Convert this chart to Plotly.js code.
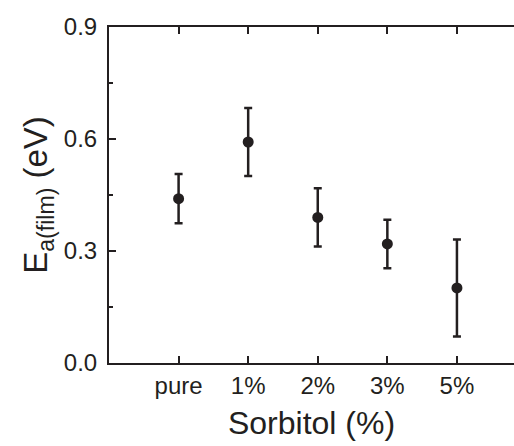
<!DOCTYPE html>
<html>
<head>
<meta charset="utf-8">
<script src="https://cdn.plot.ly/plotly-3.0.1.min.js"></script>
<style>html,body{margin:0;padding:0;background:#fff;}#chart{width:514px;height:446px;}</style>
</head>
<body>
<div id="chart"></div>
<script>
const categories = ["pure", "1%", "2%", "3%", "5%"];
const energy = [0.44, 0.592, 0.39, 0.319, 0.201];
const errorVal = [0.066, 0.091, 0.078, 0.065, 0.13];
const yTickVals = [0, 0.3, 0.6, 0.9];
const yTickText = ["0.0", "0.3", "0.6", "0.9"];

const xpos = categories.map((c, i) => i + 1);
const ink = "#231f20";

const trace = {
  x: xpos,
  y: energy,
  type: "scatter",
  mode: "markers",
  marker: {color: ink, size: 11},
  error_y: {type: "data", array: errorVal, visible: true, color: ink, thickness: 2.5, width: 4},
  showlegend: false,
  hoverinfo: "skip"
};

const font = "Liberation Sans, Arial, sans-serif";
const layout = {
  width: 514, height: 446,
  margin: {l: 109, r: 0, t: 27, b: 83},
  paper_bgcolor: "#fff", plot_bgcolor: "#fff",
  font: {family: font, color: ink},
  xaxis: {
    range: [0, 5.82],
    tickvals: xpos, ticktext: categories,
    ticks: "inside", ticklen: 7, tickwidth: 2, tickcolor: ink,
    showline: true, linewidth: 2, linecolor: ink, mirror: "allticks",
    showgrid: false, zeroline: false,
    tickfont: {size: 24, family: font, color: ink},
    title: {text: "Sorbitol (%)", font: {size: 32, family: font, color: ink}, standoff: 14}
  },
  yaxis: {
    range: [0, 0.9],
    tickvals: yTickVals, ticktext: yTickText,
    ticks: "inside", ticklen: 7, tickwidth: 2, tickcolor: ink,
    minor: {dtick: 0.15, tick0: 0, ticks: "inside", ticklen: 4, tickwidth: 2, tickcolor: ink, showgrid: false},
    showline: true, linewidth: 2, linecolor: ink, mirror: false,
    showgrid: false, zeroline: false,
    tickfont: {size: 24, family: font, color: ink},
    ticklabelstandoff: 5,
    title: {text: "E<sub>a(film)</sub> (eV)", font: {size: 33, family: font, color: ink}, standoff: 6}
  }
};

Plotly.newPlot("chart", [trace], layout, {displayModeBar: false, staticPlot: true});
</script>
</body>
</html>
